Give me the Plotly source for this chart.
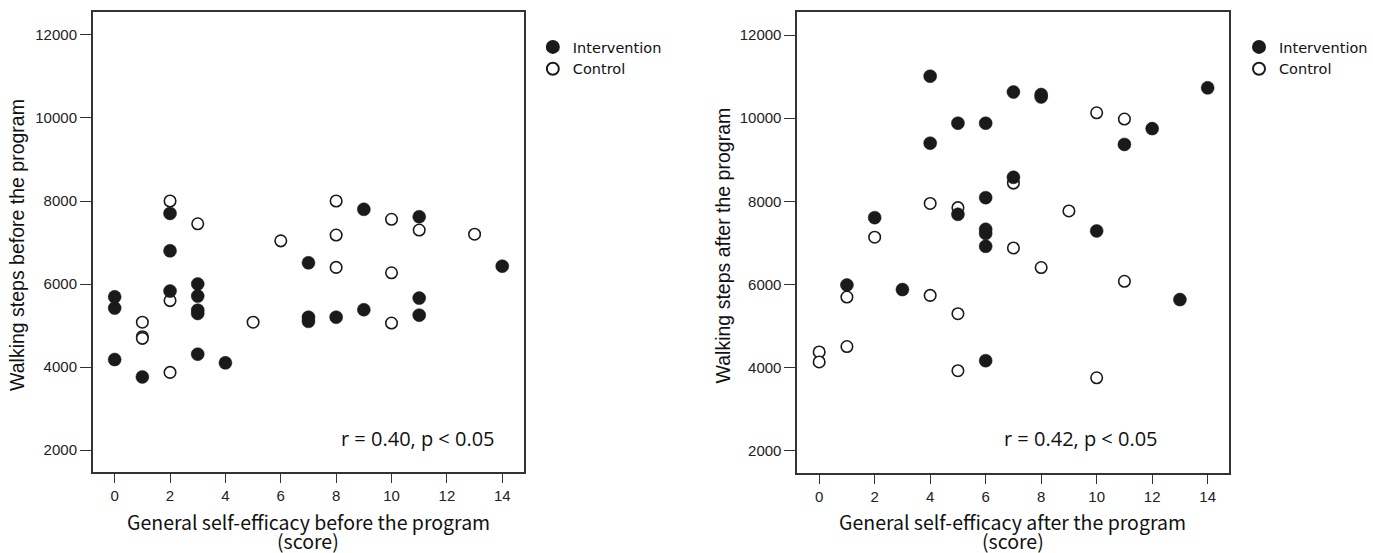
import plotly.graph_objects as go

W, H = 1373, 553

# ---- data ----
pre_int_x = [0, 0, 0, 1, 2, 2, 2, 3, 3, 3, 3, 3, 4, 7, 7, 7, 8, 9, 9, 11, 11, 11, 14]
pre_int_y = [5690, 5420, 4180, 3760, 7700, 6800, 5830, 6000, 5710, 5370, 5290, 4310, 4100,
             6510, 5200, 5100, 5200, 7800, 5380, 7620, 5660, 5250, 6430]
pre_ctl_x = [1, 1, 1, 2, 2, 2, 3, 5, 6, 8, 8, 8, 10, 10, 10, 11, 13]
pre_ctl_y = [5080, 4730, 4690, 8000, 5600, 3870, 7450, 5080, 7040, 8000, 7180, 6400,
             7560, 6270, 5060, 7300, 7200]

post_int_x = [1, 2, 3, 4, 4, 5, 5, 6, 6, 6, 6, 6, 6, 7, 7, 8, 8, 10, 11, 12, 13, 14]
post_int_y = [5990, 7610, 5880, 11010, 9400, 9880, 7690, 9880, 8090, 7330, 7230, 6920, 4170,
              10630, 8580, 10570, 10510, 7290, 9370, 9750, 5640, 10730]
post_ctl_x = [0, 0, 1, 1, 2, 4, 4, 5, 5, 5, 7, 7, 8, 9, 10, 10, 11, 11]
post_ctl_y = [4380, 4140, 5700, 4510, 7140, 7950, 5740, 7850, 5300, 3930, 8440, 6880,
              6410, 7770, 10130, 3760, 9980, 6080]

x_ticks = [0, 2, 4, 6, 8, 10, 12, 14]
y_ticks = [2000, 4000, 6000, 8000, 10000, 12000]
y_tick_labels = ["2000", "4000", "6000", "8000", "10000", "12000"]

group_names = ["Intervention", "Control"]
x_titles = [("General self-efficacy before the program", "(score)"),
            ("General self-efficacy after the program", "(score)")]
y_titles = ["Walking steps before the program", "Walking steps after the program"]
stat_texts = ["r = 0.40, p < 0.05", "r = 0.42, p < 0.05"]

INK = "#1a1a1a"
FRAME = "#333333"

fig = go.Figure()


def add_panel(cx, cy, ix, iy, xa, ya, leg):
    fig.add_trace(go.Scatter(
        x=cx, y=cy, mode="markers", name=group_names[1], xaxis=xa, yaxis=ya,
        legend=leg, legendrank=2,
        marker=dict(symbol="circle", size=11.5, color="white",
                    line=dict(color=INK, width=1.6)),
        hoverinfo="x+y"))
    fig.add_trace(go.Scatter(
        x=ix, y=iy, mode="markers", name=group_names[0], xaxis=xa, yaxis=ya,
        legend=leg, legendrank=1,
        marker=dict(symbol="circle", size=13, color=INK,
                    line=dict(color=INK, width=0.5)),
        hoverinfo="x+y"))


add_panel(pre_ctl_x, pre_ctl_y, pre_int_x, pre_int_y, "x", "y", "legend")
add_panel(post_ctl_x, post_ctl_y, post_int_x, post_int_y, "x2", "y2", "legend2")


def px_x(p):  # pixel -> paper fraction
    return p / W


def px_y(p):
    return 1 - p / H


tick_font = dict(family="Liberation Sans, Arial, sans-serif", size=15, color="#222222")

common_x = dict(range=[-0.79, 14.78], tickvals=x_ticks, ticks="outside", ticklen=9,
                tickwidth=1.3, tickcolor=FRAME, showline=True, linecolor=FRAME,
                linewidth=1.6, mirror=True, showgrid=False, zeroline=False,
                tickfont=tick_font, automargin=False)
common_y = dict(range=[1470, 12554], tickvals=y_ticks, ticktext=y_tick_labels,
                ticks="outside", ticklen=11,
                tickwidth=1.3, tickcolor=FRAME, showline=True, linecolor=FRAME,
                linewidth=1.6, mirror=True, showgrid=False, zeroline=False,
                tickfont=tick_font, automargin=False)

legend_common = dict(font=dict(family="DejaVu Sans, sans-serif", size=14.5, color="#111111"),
                     bgcolor="rgba(0,0,0,0)", borderwidth=0, xanchor="left", yanchor="top",
                     tracegroupgap=0, itemsizing="constant")

fig.update_layout(
    width=W, height=H, autosize=False,
    margin=dict(l=0, r=0, t=0, b=0),
    paper_bgcolor="white", plot_bgcolor="white",
    showlegend=True,
    xaxis=dict(domain=[px_x(93), px_x(525)], anchor="y", **common_x),
    yaxis=dict(domain=[px_y(472), px_y(12)], anchor="x", **common_y),
    xaxis2=dict(domain=[px_x(799), px_x(1232)], anchor="y2", **common_x),
    yaxis2=dict(domain=[px_y(473), px_y(12)], anchor="x2", **common_y),
    legend=dict(x=px_x(534), y=px_y(31), **legend_common),
    legend2=dict(x=px_x(1242), y=px_y(31), **legend_common),
)

title_font = dict(family="Noto Sans CJK JP, sans-serif", size=19.5, color="#111111")
ytitle_font = dict(family="Liberation Sans, Arial, sans-serif", size=19.5, color="#111111")
stat_font = dict(family="Open Sans, sans-serif", size=20, color="#111111")

# x axis titles: two lines with the tight leading of the reference
for cx, (l1, l2) in [(309, x_titles[0]), (1015, x_titles[1])]:
    fig.add_annotation(text=l1, xref="paper", yref="paper", x=px_x(cx), y=px_y(521),
                       xanchor="center", yanchor="middle", showarrow=False,
                       font=title_font, borderpad=0)
    fig.add_annotation(text=l2, xref="paper", yref="paper", x=px_x(cx), y=px_y(540),
                       xanchor="center", yanchor="middle", showarrow=False,
                       font=title_font, borderpad=0)
# y axis titles
for cx, txt in [(17, y_titles[0]), (725, y_titles[1])]:
    fig.add_annotation(text=txt, xref="paper", yref="paper", x=px_x(cx), y=px_y(245),
                       xanchor="center", yanchor="middle", showarrow=False,
                       font=ytitle_font, textangle=-90)
# statistics
for rx, txt in [(498, stat_texts[0]), (1163, stat_texts[1])]:
    fig.add_annotation(text=txt, xref="paper", yref="paper", x=px_x(rx), y=px_y(438),
                       xanchor="right", yanchor="middle", showarrow=False,
                       font=stat_font)

# the page's default 8px body margin would push the figure off the window
fig.write_html("out.html",
               config={"displayModeBar": False},
               post_script="document.body.style.margin='0';"
                           "document.body.style.overflow='hidden';")
